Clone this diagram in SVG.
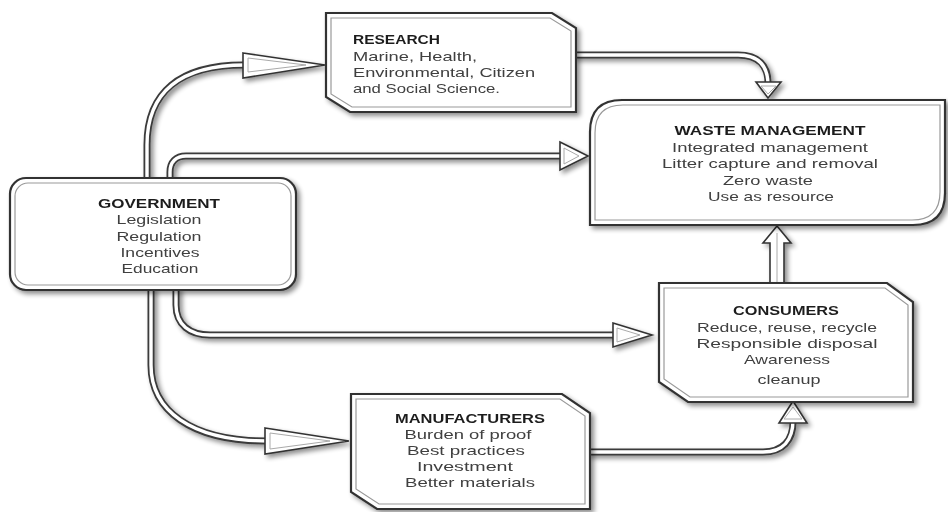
<svg xmlns="http://www.w3.org/2000/svg" width="948" height="512" viewBox="0 0 948 512">
<defs>
<filter id="sh" x="-10%" y="-10%" width="130%" height="140%">
<feGaussianBlur in="SourceAlpha" stdDeviation="2.5"/>
<feOffset dx="3" dy="3" result="b"/>
<feComponentTransfer><feFuncA type="linear" slope="0.45"/></feComponentTransfer>
<feMerge><feMergeNode/><feMergeNode in="SourceGraphic"/></feMerge>
</filter>
<style>
.box{fill:#fff;stroke:#333;stroke-width:2.2}
.inner{fill:none;stroke:#9a9a9a;stroke-width:1.2}
.pipeO{fill:none;stroke:#3a3a3a;stroke-width:7}
.pipeI{fill:none;stroke:#fff;stroke-width:3.4}
.head{fill:#fff;stroke:#333;stroke-width:1.6;stroke-linejoin:miter}
.headI{fill:none;stroke:#aaa;stroke-width:1}
text{font-family:"Liberation Sans",Arial,sans-serif;font-size:13px;fill:#404040}
.h{font-weight:bold;fill:#1e1e1e}
.c{text-anchor:middle}
</style>
</defs>
<rect width="948" height="512" fill="#fff"/>
<g id="connectors" filter="url(#sh)">
<path class="pipeO" d="M147,180 V145 C147,92 180,65 243,65"/>
<path class="pipeO" d="M170,180 V172 C170,162 176,156 186,156 H561"/>
<path class="pipeO" d="M176,288 V305 C176,325 190,335 210,335 H614"/>
<path class="pipeO" d="M151,288 V365 C151,410 190,441 266,441"/>
<path class="pipeO" d="M574,55 H738 C758,55 768,65 768,83"/>
<path class="pipeO" d="M588,452 H763 C783,452 793,440 793,422"/>
<path class="pipeI" d="M147,182 V145 C147,92 180,65 245,65"/>
<path class="pipeI" d="M170,182 V172 C170,162 176,156 186,156 H563"/>
<path class="pipeI" d="M176,286 V305 C176,325 190,335 210,335 H616"/>
<path class="pipeI" d="M151,286 V365 C151,410 190,441 268,441"/>
<path class="pipeI" d="M572,55 H738 C758,55 768,65 768,85"/>
<path class="pipeI" d="M586,452 H763 C783,452 793,440 793,420"/>
<polygon class="head" points="243,53 325,65 243,78"/>
<polygon class="headI" points="248,58 306,65 248,72"/>
<polygon class="head" points="560,142 588,156 560,170"/>
<polygon class="headI" points="564,148 579,156 564,164"/>
<polygon class="head" points="613,323 652,335 613,347"/>
<polygon class="headI" points="617,328 640,335 617,342"/>
<polygon class="head" points="265,428 349,441 265,454"/>
<polygon class="headI" points="270,433 330,441 270,449"/>
<polygon class="head" points="756,82 781,82 768,98"/>
<polygon class="headI" points="761,86 776,86 768,94"/>
<polygon class="head" points="779,423 807,423 793,401"/>
<polygon class="headI" points="784,419 802,419 793,407"/>
<polygon class="head" points="770,284 770,243 763,243 777,226 791,243 784,243 784,284"/>
<path class="headI" d="M777,233 V283"/>
</g>
<g id="research" filter="url(#sh)">
<path class="box" d="M326,13 H552 L576,28 V112 H350 L326,97 Z"/>
<path class="inner" d="M331,18 H550 L571,31 V107 H352 L331,94 Z"/>
<text class="h" x="353" y="44" textLength="87" lengthAdjust="spacingAndGlyphs">RESEARCH</text>
<text x="353" y="61" textLength="124" lengthAdjust="spacingAndGlyphs">Marine, Health,</text>
<text x="353" y="77" textLength="182" lengthAdjust="spacingAndGlyphs">Environmental, Citizen</text>
<text x="353" y="93" textLength="147" lengthAdjust="spacingAndGlyphs">and Social Science.</text>
</g>
<g id="waste" filter="url(#sh)">
<path class="box" d="M622,100 H945 V193 Q945,225 913,225 H590 V132 Q590,100 622,100 Z"/>
<path class="inner" d="M623,105 H940 V192 Q940,220 912,220 H595 V133 Q595,105 623,105 Z"/>
<text class="h c" x="770" y="135" textLength="191" lengthAdjust="spacingAndGlyphs">WASTE MANAGEMENT</text>
<text class="c" x="770" y="152" textLength="196" lengthAdjust="spacingAndGlyphs">Integrated management</text>
<text class="c" x="770" y="168" textLength="216" lengthAdjust="spacingAndGlyphs">Litter capture and removal</text>
<text class="c" x="768" y="185" textLength="90" lengthAdjust="spacingAndGlyphs">Zero waste</text>
<text class="c" x="771" y="201" textLength="126" lengthAdjust="spacingAndGlyphs">Use as resource</text>
</g>
<g id="government" filter="url(#sh)">
<rect class="box" x="10" y="178" width="286" height="112" rx="16"/>
<rect class="inner" x="15" y="183" width="276" height="102" rx="13"/>
<text class="h c" x="159" y="208" textLength="122" lengthAdjust="spacingAndGlyphs">GOVERNMENT</text>
<text class="c" x="159" y="224" textLength="85" lengthAdjust="spacingAndGlyphs">Legislation</text>
<text class="c" x="159" y="241" textLength="85" lengthAdjust="spacingAndGlyphs">Regulation</text>
<text class="c" x="160" y="257" textLength="79" lengthAdjust="spacingAndGlyphs">Incentives</text>
<text class="c" x="160" y="273" textLength="77" lengthAdjust="spacingAndGlyphs">Education</text>
</g>
<g id="consumers" filter="url(#sh)">
<path class="box" d="M659,283 H887 L913,302 V402 H688 L659,382 Z"/>
<path class="inner" d="M664,288 H885 L908,305 V397 H690 L664,379 Z"/>
<text class="h c" x="786" y="315" textLength="106" lengthAdjust="spacingAndGlyphs">CONSUMERS</text>
<text class="c" x="787" y="332" textLength="180" lengthAdjust="spacingAndGlyphs">Reduce, reuse, recycle</text>
<text class="c" x="787" y="348" textLength="181" lengthAdjust="spacingAndGlyphs">Responsible  disposal</text>
<text class="c" x="787" y="364" textLength="86" lengthAdjust="spacingAndGlyphs">Awareness</text>
<text class="c" x="789" y="384" textLength="63" lengthAdjust="spacingAndGlyphs">cleanup</text>
</g>
<g id="manufacturers" filter="url(#sh)">
<path class="box" d="M351,394 H562 L590,413 V509 H377 L351,492 Z"/>
<path class="inner" d="M356,399 H560 L585,416 V504 H379 L356,489 Z"/>
<text class="h c" x="470" y="423" textLength="150" lengthAdjust="spacingAndGlyphs">MANUFACTURERS</text>
<text class="c" x="468" y="439" textLength="127" lengthAdjust="spacingAndGlyphs">Burden of proof</text>
<text class="c" x="466" y="455" textLength="118" lengthAdjust="spacingAndGlyphs">Best practices</text>
<text class="c" x="465" y="471" textLength="96" lengthAdjust="spacingAndGlyphs">Investment</text>
<text class="c" x="470" y="487" textLength="130" lengthAdjust="spacingAndGlyphs">Better materials</text>
</g>
</svg>
